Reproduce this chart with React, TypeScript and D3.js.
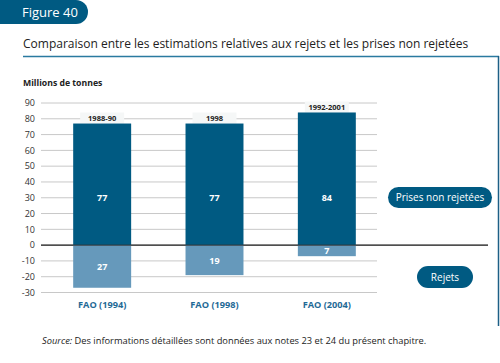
import React from 'react';
import * as d3 from 'd3';

const sources = ['FAO (1994)', 'FAO (1998)', 'FAO (2004)'];
const periods = ['1988-90', '1998', '1992-2001'];
const prisesNonRejetees = [77, 77, 84];
const rejets = [27, 19, 7];
const yTicks = [90, 80, 70, 60, 50, 40, 30, 20, 10, 0, -10, -20, -30];

const DARK = '#005a82';
const LIGHT = '#6699bb';
const FONT = '"Open Sans", sans-serif';

const App = () => {
  const y = d3.scaleLinear().domain([-30, 90]).range([292.5, 103]);
  const x = d3
    .scaleBand()
    .domain(sources)
    .range([46, 383])
    .paddingInner(0.484)
    .paddingOuter(0.242);
  const bw = x.bandwidth();

  return (
    <svg
      width={500}
      height={363}
      style={{ position: 'absolute', left: 0, top: 0 }}
      fontFamily={FONT}
    >
      <rect width={500} height={363} fill="#fff" />
      {/* figure badge */}
      <path d="M0,0 H76 A12,12 0 0 1 76,24 H0 Z" fill={DARK} />
      <text x={22} y={17} fill="#fff" fontSize={13}>Figure 40</text>

      <text x={23} y={48} fontSize={12} fill="#222">
        Comparaison entre les estimations relatives aux rejets et les prises non rejetées
      </text>
      <line x1={23} x2={499} y1={56.5} y2={56.5} stroke="#2a7aa0" strokeWidth={1.5} />
      <line x1={498.5} x2={498.5} y1={56} y2={326} stroke="#1d5f86" strokeWidth={1.5} />

      <text x={23} y={86} fontSize={8.7} fontWeight="bold" fill="#222">Millions de tonnes</text>

      {yTicks.map((t) => (
        <g key={t}>
          <line
            x1={41}
            x2={t === 0 ? 488 : 377}
            y1={y(t)}
            y2={y(t)}
            stroke={t === 0 ? '#333' : '#c8c8c8'}
            strokeWidth={1}
          />
          <text x={35} y={y(t) + 3.2} fontSize={9} textAnchor="end" fill="#333">
            {t}
          </text>
        </g>
      ))}

      {sources.map((s, i) => {
        const x0 = x(s) as number;
        const cx = x0 + bw / 2;
        return (
          <g key={s}>
            <rect x={cx - 22} y={y(prisesNonRejetees[i]) - 11} width={44} height={11} fill="#f5f7f7" />
            <text x={cx} y={y(prisesNonRejetees[i]) - 2.5} fontSize={7.5} fontWeight="bold" textAnchor="middle" fill="#222">
              {periods[i]}
            </text>
            <rect x={x0} y={y(prisesNonRejetees[i])} width={bw} height={y(0) - y(prisesNonRejetees[i])} fill={DARK} />
            <rect x={x0} y={y(0)} width={bw} height={y(-rejets[i]) - y(0)} fill={LIGHT} />
            <text x={cx} y={y(30) + 3.5} fontSize={9} fontWeight="bold" textAnchor="middle" fill="#fff">
              {prisesNonRejetees[i]}
            </text>
            <text x={cx} y={(y(0) + y(-rejets[i])) / 2 + 3.5} fontSize={9} fontWeight="bold" textAnchor="middle" fill="#fff">
              {rejets[i]}
            </text>
            <text x={cx} y={308} fontSize={9.2} fontWeight="bold" textAnchor="middle" fill="#1f6a96">
              {s}
            </text>
          </g>
        );
      })}
      {/* zero line drawn over bars */}
      <line x1={41} x2={488} y1={y(0)} y2={y(0)} stroke="#333" strokeWidth={1} />

      {/* legend pills */}
      <rect x={388} y={187} width={104} height={21} rx={10.5} fill={DARK} />
      <text x={440} y={201} fontSize={10} textAnchor="middle" fill="#fff">Prises non rejetées</text>
      <rect x={417} y={266} width={56} height={22} rx={11} fill={DARK} />
      <text x={445} y={280.5} fontSize={10} textAnchor="middle" fill="#fff">Rejets</text>

      <text x={42} y={344} fontSize={9.3} fill="#222">
        <tspan fontStyle="italic">Source:</tspan> Des informations détaillées sont données aux notes 23 et 24 du présent chapitre.
      </text>
    </svg>
  );
};

export default App;
